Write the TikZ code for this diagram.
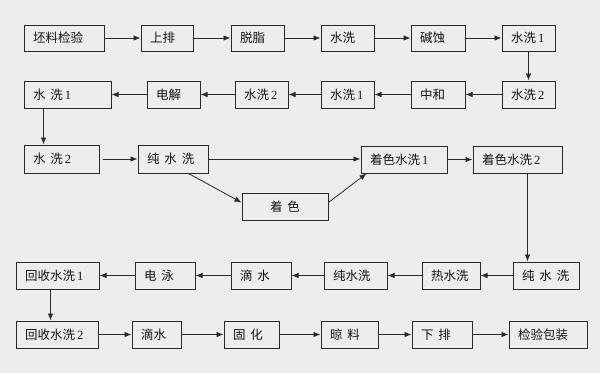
\documentclass[tikz,border=0pt]{standalone}
\usepackage{fontspec}
\setmainfont{Liberation Serif}
\newfontfamily\cjk{Noto Sans CJK SC}
\usetikzlibrary{arrows.meta,calc}
\definecolor{bgc}{HTML}{EDEDED}
\definecolor{ink}{HTML}{2A2A2A}
\tikzset{
 box/.style={draw=ink, line width=1pt, inner xsep=9pt, inner ysep=0pt,
   font=\cjk\fontsize{12.5}{14}\selectfont, text=black!92},
 arr/.style={draw=ink, line width=0.8pt, -{Latex[length=7pt,width=5.5pt]}},
}
\newcommand\sk{\hspace{0.4em}}
\newcommand\nm[1]{\hspace{2pt}{\rmfamily #1}}
\newcommand\bx[7][left]{%
  \pgfmathsetmacro\bxw{#4-#3}\pgfmathsetmacro\bxh{#6-#5}\pgfmathsetmacro\bxt{#4-#3-18}%
  \node[box,align=#1,minimum width=\bxw pt,minimum height=\bxh pt,text width=\bxt pt]
    (#2) at ({(#3+#4)/2},{(#5+#6)/2}) {#7};}
\begin{document}
\begin{tikzpicture}[x=1pt,y=-1pt]
\fill[bgc] (0,0) rectangle (600,373);
\useasboundingbox (0,0) rectangle (600,373);
% row 1
\bx{a1}{24}{104}{25}{51}{坯料检验}
\bx{a2}{141}{193}{25}{51}{上排}
\bx{a3}{231}{284}{25}{51}{脱脂}
\bx{a4}{321}{374}{25}{51}{水洗}
\bx{a5}{411}{465}{25}{51}{碱蚀}
\bx{a6}{502}{555}{25}{51}{水洗\nm{1}}
% row 2
\bx{b1}{24}{111}{81}{108}{水\sk 洗\nm{1}}
\bx{b2}{147}{200}{81}{108}{电解}
\bx{b3}{235}{288}{81}{108}{水洗\nm{2}}
\bx{b4}{321}{374}{81}{108}{水洗\nm{1}}
\bx{b5}{411}{465}{81}{108}{中和}
\bx{b6}{502}{555}{81}{108}{水洗\nm{2}}
% row 3
\bx{c1}{24}{99}{145}{173}{水\sk 洗\nm{2}}
\bx{c2}{138}{208}{145}{173}{纯\sk 水\sk 洗}
\bx[center]{c3}{242}{328}{193}{220}{着\sk 色}
\bx{c4}{361}{447}{146}{173}{着色水洗\nm{1}}
\bx{c5}{473}{562}{146}{173}{着色水洗\nm{2}}
% row 4
\bx{d1}{16}{99}{262}{289}{回收水洗\nm{1}}
\bx{d2}{135}{195}{262}{289}{电\sk 泳}
\bx{d3}{231}{291}{262}{289}{滴\sk 水}
\bx{d4}{324}{387}{262}{289}{纯水洗}
\bx{d5}{422}{480}{262}{289}{热水洗}
\bx{d6}{513}{579}{262}{289}{纯\sk 水\sk 洗}
% row 5
\bx{e1}{16}{98}{321}{348}{回收水洗\nm{2}}
\bx{e2}{132}{181}{321}{348}{滴水}
\bx{e3}{224}{279}{321}{348}{固\sk 化}
\bx{e4}{321}{378}{321}{348}{晾\sk 料}
\bx{e5}{412}{472}{321}{348}{下\sk 排}
\bx{e6}{509}{587}{321}{348}{检验包装}
% connectors
\foreach \p/\q in {a1/a2,a2/a3,a3/a4,a4/a5,a5/a6,
                   b6/b5,b5/b4,b4/b3,b3/b2,b2/b1,
                   c4/c5,
                   d6/d5,d5/d4,d4/d3,d3/d2,d2/d1,
                   e1/e2,e2/e3,e3/e4,e4/e5,e5/e6}
  \draw[arr] (\p) -- (\q);
\draw[arr,shorten <=3pt] (c1) -- (c2);
\draw[arr] (c2.east) -- (c2.east -| c4.west);
\draw[arr] (a6) -- (b6);
\draw[arr] ([xshift=20pt]b1.south west) -- ([xshift=20pt]b1.south west |- c1.north);
\draw[arr] ([xshift=51pt]c2.south west) -- ([yshift=4pt]c3.west);
\draw[arr] ([yshift=4pt]c3.east) -- ([xshift=6pt]c4.south west);
\draw[arr] ([xshift=55pt]c5.south west) -- ([xshift=55pt]c5.south west |- d6.north);
\draw[arr] ([xshift=35pt]d1.south west) -- ([xshift=35pt]d1.south west |- e1.north);
\end{tikzpicture}
\end{document}
